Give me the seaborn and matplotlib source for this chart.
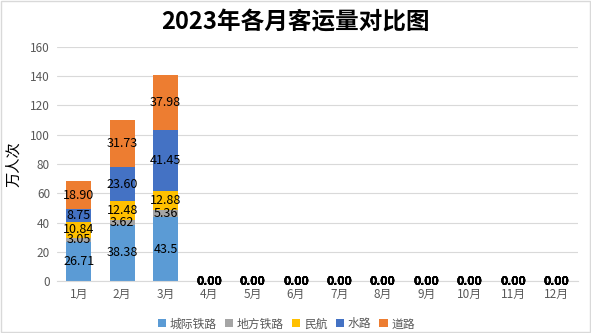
import matplotlib
matplotlib.use("Agg")
import matplotlib.pyplot as plt
import seaborn as sns
import numpy as np

months = ["1月", "2月", "3月", "4月", "5月", "6月", "7月", "8月", "9月", "10月", "11月", "12月"]
series_names = ["城际铁路", "地方铁路", "民航", "水路", "道路"]
intercity_rail = [26.71, 38.38, 43.5, 0, 0, 0, 0, 0, 0, 0, 0, 0]
local_rail = [3.05, 3.62, 5.36, 0, 0, 0, 0, 0, 0, 0, 0, 0]
aviation = [10.84, 12.48, 12.88, 0, 0, 0, 0, 0, 0, 0, 0, 0]
waterway = [8.75, 23.60, 41.45, 0, 0, 0, 0, 0, 0, 0, 0, 0]
road = [18.90, 31.73, 37.98, 0, 0, 0, 0, 0, 0, 0, 0, 0]
label_texts = [
    ["26.71", "38.38", "43.5"] + ["0.00"] * 9,
    ["3.05", "3.62", "5.36"] + ["0.00"] * 9,
    ["10.84", "12.48", "12.88"] + ["0.00"] * 9,
    ["8.75", "23.60", "41.45"] + ["0.00"] * 9,
    ["18.90", "31.73", "37.98"] + ["0.00"] * 9,
]
colors = ["#5B9BD5", "#A5A5A5", "#FFC000", "#4472C4", "#ED7D31"]
values = [intercity_rail, local_rail, aviation, waterway, road]

sns.set_style("white")
plt.rcParams["font.family"] = ["Noto Sans CJK SC", "DejaVu Sans"]

fig = plt.figure(figsize=(5.91, 3.33), dpi=100)
ax = fig.add_axes([0.0964, 0.156, 0.882, 0.703])

bottom = np.zeros(len(months))
for name, vals, col, labs in zip(series_names, values, colors, label_texts):
    vals = np.array(vals, dtype=float)
    sns.barplot(x=months, y=vals, bottom=bottom, color=col, width=0.58,
                ax=ax, label=name, saturation=1, linewidth=0)
    for i, (v, b, t) in enumerate(zip(vals, bottom, labs)):
        ax.text(i, b + v / 2, t, ha="center", va="center", fontsize=9,
                color="black", fontweight="bold" if v == 0 else "normal")
    bottom = bottom + vals

ax.set_ylim(0, 160)
ax.set_yticks(np.arange(0, 161, 20))
ax.set_xlim(-0.5, 11.5)
ax.yaxis.grid(True, color="#D9D9D9", linewidth=0.8)
ax.set_axisbelow(True)
for s in ["top", "right", "left"]:
    ax.spines[s].set_visible(False)
ax.spines["bottom"].set_color("#D9D9D9")
ax.tick_params(axis="both", length=0, labelsize=8.5, colors="#595959", pad=5)
ax.set_ylabel("万人次", fontsize=11, color="black", labelpad=6)
ax.set_xlabel("")

fig.text(0.5, 0.934, "2023年各月客运量对比图", ha="center", va="center",
         fontsize=17, fontweight="bold", color="black")

leg = ax.legend(loc="upper center", bbox_to_anchor=(0.44, -0.11), ncol=5,
                frameon=False, fontsize=8.5, handlelength=0.7, handleheight=0.7,
                handletextpad=0.3, columnspacing=0.7)
for t in leg.get_texts():
    t.set_color("#595959")

border = plt.Rectangle((0.002, 0.003), 0.996, 0.994, transform=fig.transFigure,
                       fill=False, edgecolor="#D9D9D9", linewidth=1)
fig.patches.append(border)

fig.savefig("out.png", dpi=100, facecolor="white")
